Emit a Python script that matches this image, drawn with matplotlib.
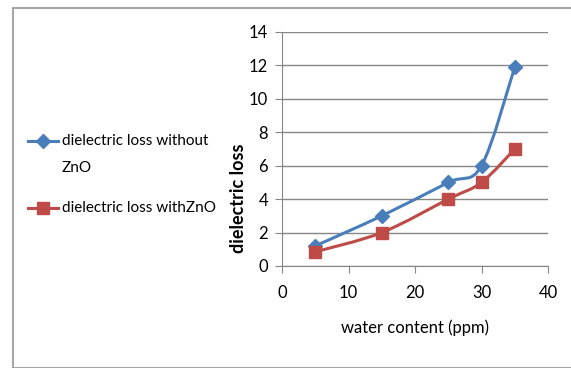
import numpy as np
import matplotlib.pyplot as plt
from matplotlib.path import Path
from matplotlib.patches import PathPatch, Rectangle
from matplotlib.lines import Line2D

plt.rcParams['font.family'] = ['Lato', 'DejaVu Sans']

water = [5, 15, 25, 30, 35]
loss_without = [1.2, 3.0, 5.0, 6.0, 11.9]
loss_with = [0.85, 2.0, 4.0, 5.0, 7.0]

label_without = 'dielectric loss without'
label_without_2 = 'ZnO'
label_with = 'dielectric loss withZnO'

blue = '#4A7EBB'
red = '#BE4B48'


def smooth_path(x, y):
    # Catmull-Rom style bezier through the points, like a spreadsheet "smoothed line"
    pts = np.column_stack([x, y]).astype(float)
    n = len(pts)
    verts = [pts[0]]
    codes = [Path.MOVETO]
    for i in range(n - 1):
        p0 = pts[max(i - 1, 0)]
        p1 = pts[i]
        p2 = pts[i + 1]
        p3 = pts[min(i + 2, n - 1)]
        verts += [p1 + (p2 - p0) / 6, p2 - (p3 - p1) / 6, p2]
        codes += [Path.CURVE4] * 3
    return Path(verts, codes)


W, H = 571, 368
fig = plt.figure(figsize=(W / 100, H / 100), dpi=100)
fig.patches.append(Rectangle((12.5 / W, 1 - 367.5 / H), 1.1, (367.5 - 7.5) / H,
                             transform=fig.transFigure, fill=False,
                             edgecolor='#A6A6A6', linewidth=1.5))

ax = fig.add_axes([282 / W, 1 - 266 / H, (548 - 282) / W, (266 - 32) / H])

for ys, col in [(loss_without, blue), (loss_with, red)]:
    ax.add_patch(PathPatch(smooth_path(water, ys), fill=False, edgecolor=col,
                           linewidth=2.2, zorder=3))
ax.plot(water, loss_without, linestyle='none', marker='D', markersize=7.5,
        color=blue, zorder=4)
ax.plot(water, loss_with, linestyle='none', marker='s', markersize=9,
        color=red, zorder=4)

ax.set_xlim(0, 40)
ax.set_ylim(0, 14)
ax.set_xticks(np.arange(0, 41, 10))
ax.set_yticks(np.arange(0, 15, 2))
ax.grid(axis='y', color='#868686', linewidth=1)
ax.set_axisbelow(True)
for s in ['top', 'right']:
    ax.spines[s].set_visible(False)
for s in ['left', 'bottom']:
    ax.spines[s].set_color('#868686')
ax.tick_params(axis='both', colors='#868686', labelcolor='black',
               labelsize=12, length=5, direction='out')
ax.tick_params(axis='y', pad=5)
ax.tick_params(axis='x', pad=9)

ax.set_xlabel('water content (ppm)', fontsize=12)
ax.xaxis.set_label_coords(0.5, -0.23)
ax.set_ylabel('dielectric loss', fontsize=13, fontweight='bold')
ax.yaxis.set_label_coords(-0.13, 0.29)

# legend on the left side
for yy, col, mk, ms in [(141, blue, 'D', 7.5), (208, red, 's', 9)]:
    fig.add_artist(Line2D([28 / W, 58 / W], [1 - yy / H, 1 - yy / H],
                          color=col, linewidth=2.2, transform=fig.transFigure))
    fig.add_artist(Line2D([43 / W], [1 - yy / H], marker=mk, markersize=ms,
                          color=col, transform=fig.transFigure))
fig.text(62 / W, 1 - 141 / H, label_without, fontsize=11, va='center')
fig.text(62 / W, 1 - 168 / H, label_without_2, fontsize=11, va='center')
fig.text(62 / W, 1 - 208 / H, label_with, fontsize=11, va='center')

fig.savefig('out.png', dpi=100)
